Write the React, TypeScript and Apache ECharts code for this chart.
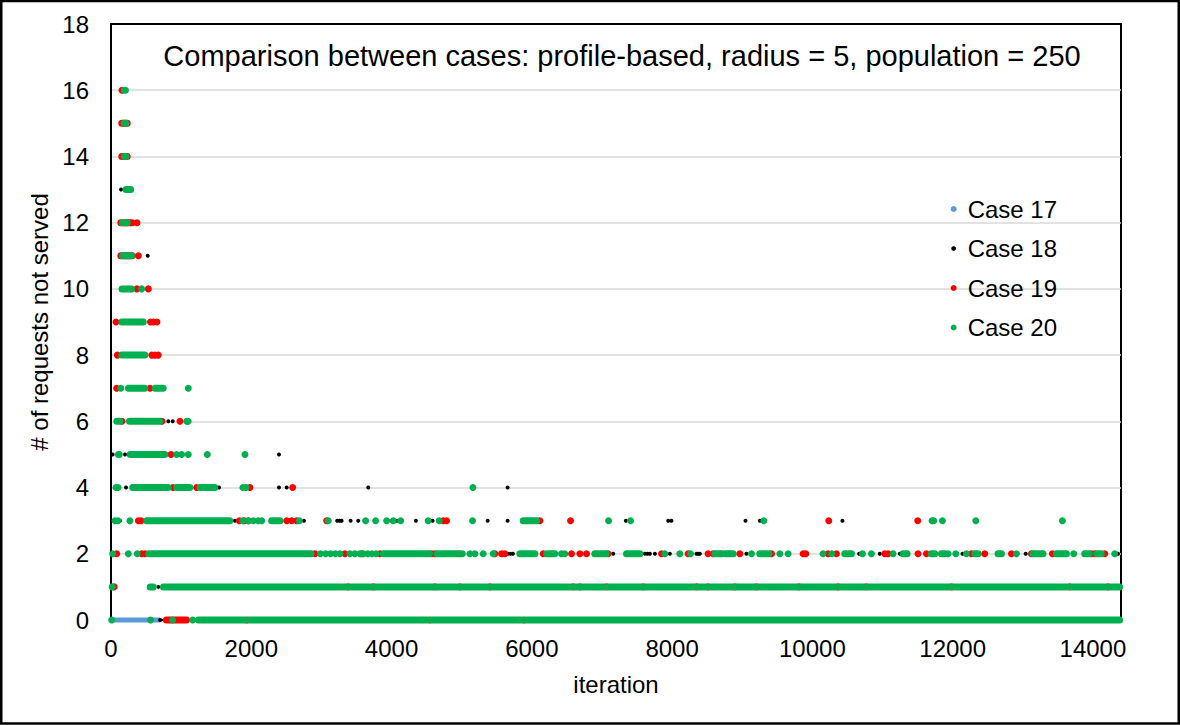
import React, { useEffect, useRef } from 'react';
import * as echarts from 'echarts';

const TITLE = 'Comparison between cases: profile-based, radius = 5, population = 250';
const X_NAME = 'iteration';
const Y_NAME = '# of requests not served';
const X_MAX = 14400;
const X_STEP = 2000;
const Y_MAX = 18;
const Y_STEP = 2;

type Rows = [number, number[]][];
type RunRows = [number, [number, number][]][];

// Each row: [y level, x positions] ; runs: [y level, [x start, x end] dense stretches]
const case17Runs: RunRows = [[0, [[40, 690]]]];
const case17Dots: Rows = [];

const case18Runs: RunRows = [];
const case18Dots: Rows = [
  [13, [143]],
  [11, [523]],
  [6, [817, 880]],
  [5, [24, 200, 2395]],
  [4, [214, 1540, 2395, 2505, 3668, 5655]],
  [3, [128, 1767, 2751, 3225, 3260, 3288, 3416, 3525, 4000, 4072, 4347, 4585, 5370, 5655, 7340, 7945, 7990, 9046, 9250, 10428]],
  [2, [5658, 5694, 5730, 7160, 7611, 7647, 7683, 7754, 7967, 8348, 8372, 8395, 9060, 10666, 10960, 11246, 12140, 13041, 13740, 14357]],
  [1, [675]],
  [0, [700]],
];

const case19Runs: RunRows = [
  [15, [[154, 231]]],
  [14, [[154, 231]]],
  [12, [[140, 300]]],
  [11, [[140, 300]]],
  [0, [[790, 1076]]],
];
const case19Dots: Rows = [
  [16, [157]],
  [12, [370]],
  [11, [390]],
  [10, [370, 532]],
  [9, [71, 563, 605, 655]],
  [8, [90, 582, 627, 673]],
  [7, [81, 556]],
  [6, [157, 727, 983]],
  [5, [855]],
  [4, [884, 1221, 1981, 2590]],
  [3, [390, 430, 1830, 1900, 1960, 2505, 2575, 2647, 3074, 4737, 4785, 6115, 6552, 10233, 11502]],
  [2, [81, 437, 487, 2908, 3335, 3573, 3834, 4570, 4618, 4974, 5473, 5568, 5616, 6162, 6566, 6685, 6780, 7088, 7849, 8228, 8513, 8585, 8704, 8965, 9417, 9868, 9906, 10224, 10343, 11032, 11080, 11506, 11626, 12267, 12457, 12838, 13122, 13422, 13978, 14025, 14168]],
  [1, [45, 3382, 3739, 4618, 4974, 5402, 6589, 6685, 7065, 7587, 8348, 8513, 8894, 9203, 9810, 10366, 10771, 11983, 13668, 14215]],
  [0, [1933, 4547, 5887]],
];

const case20Runs: RunRows = [
  [16, [[190, 205]]],
  [15, [[188, 211]]],
  [14, [[188, 211]]],
  [13, [[215, 280]]],
  [12, [[164, 231]]],
  [11, [[167, 292]]],
  [10, [[157, 292]]],
  [9, [[155, 460]]],
  [8, [[154, 482]]],
  [7, [[250, 482], [630, 744]]],
  [6, [[83, 126], [264, 696]]],
  [5, [[107, 117], [274, 767]]],
  [4, [[310, 815], [938, 1123], [1271, 1480]]],
  [3, [[510, 1693], [2290, 2410], [5877, 6067]]],
  [2, [[540, 2850], [3882, 4540], [4648, 4944], [5830, 6043], [6210, 6328], [6898, 7060], [7350, 7540], [8609, 8680], [8751, 8870], [9250, 9380], [10462, 10557], [11293, 11350], [11697, 11745], [11840, 11887], [12315, 12362], [12647, 12695], [13145, 13288], [13479, 13622], [13883, 13948], [14055, 14120]]],
  [1, [[559, 602], [748, 3352], [3412, 3709], [3769, 4588], [4648, 4944], [5004, 5372], [5432, 6559], [6619, 6655], [6715, 7035], [7095, 7557], [7617, 8318], [8378, 8483], [8543, 8864], [8924, 9173], [9233, 9780], [9840, 10336], [10396, 10741], [10801, 11953], [12013, 13638], [13698, 14185], [14245, 14380]]],
  [0, [[1247, 1903], [1963, 4517], [4577, 5857], [5917, 14380]]],
];
const case20Dots: Rows = [
  [10, [437]],
  [7, [140, 1102]],
  [6, [1080, 1100]],
  [5, [936, 1007, 1102, 1373, 1910]],
  [4, [71, 100, 1880, 1925, 5160]],
  [3, [57, 100, 270, 1880, 1957, 2028, 2100, 2148, 2684, 3097, 3630, 3773, 3930, 4025, 4130, 4522, 4680, 5155, 7094, 7408, 9307, 11706, 11730, 11854, 12330, 13565]],
  [2, [24, 247, 375, 2985, 3060, 3130, 3200, 3265, 3406, 3478, 3549, 3600, 3660, 3720, 3780, 5010, 5117, 5188, 5307, 5449, 6423, 6470, 7896, 8110, 8262, 9132, 9536, 9654, 10153, 10276, 10714, 10842, 11150, 11935, 12044, 12196, 12909, 13726, 14310]],
  [1, [17]],
  [0, [10, 565, 877, 1165]],
];

const CASES = [
  { name: 'Case 17', color: '#5b9bd5', size: 5, runs: case17Runs, dots: case17Dots },
  { name: 'Case 18', color: '#000000', size: 4, runs: case18Runs, dots: case18Dots },
  { name: 'Case 19', color: '#ff0000', size: 7, runs: case19Runs, dots: case19Dots },
  { name: 'Case 20', color: '#00b050', size: 7, runs: case20Runs, dots: case20Dots },
];

const FONT = '"Liberation Sans", Arial, Helvetica, sans-serif';

const flattenDots = (rows: Rows) => rows.flatMap(([y, xs]) => xs.map((x) => [x, y]));
const flattenRuns = (rows: RunRows) => rows.flatMap(([y, rs]) => rs.map(([a, b]) => [a, b, y]));

export default function App() {
  const ref = useRef<HTMLDivElement>(null);
  useEffect(() => {
    document.body.style.margin = '0';
    if (!ref.current) return;
    const chart = echarts.init(ref.current, undefined, { renderer: 'svg' });
    const series: any[] = [];
    CASES.forEach((c, i) => {
      const size = c.size;
      series.push({
        type: 'custom',
        name: c.name,
        z: 2 + i,
        silent: true,
        clip: false,
        data: flattenRuns(c.runs),
        encode: { x: [0, 1], y: 2 },
        renderItem: (_params: any, api: any) => {
          const a = api.coord([api.value(0), api.value(2)]);
          const b = api.coord([api.value(1), api.value(2)]);
          return {
            type: 'rect',
            shape: { x: a[0] - size / 2, y: a[1] - size / 2, width: b[0] - a[0] + size, height: size, r: size / 2 },
            style: { fill: c.color },
          };
        },
      });
      series.push({
        type: 'scatter',
        name: c.name,
        z: 2 + i,
        silent: true,
        symbol: 'circle',
        symbolSize: size,
        itemStyle: { color: c.color, opacity: 1 },
        data: flattenDots(c.dots),
      });
    });
    chart.setOption({
      animation: false,
      backgroundColor: '#ffffff',
      textStyle: { fontFamily: FONT },
      grid: { left: 111, right: 59, top: 24, bottom: 105, show: true, borderColor: '#000', borderWidth: 2, backgroundColor: 'transparent' },
      legend: {
        orient: 'vertical',
        left: 945,
        top: 192,
        itemWidth: 6,
        itemHeight: 6,
        itemGap: 15.5,
        selectedMode: false,
        textStyle: { fontSize: 24, fontFamily: FONT, color: '#000', lineHeight: 24, padding: [0, 0, 0, 6] },
        data: [
          { name: 'Case 17', icon: 'circle', itemStyle: { color: '#5b9bd5' } },
          { name: 'Case 18', icon: 'circle', itemStyle: { color: '#000', borderColor: '#fff', borderWidth: 1.3 } },
          { name: 'Case 19', icon: 'circle', itemStyle: { color: '#ff0000' } },
          { name: 'Case 20', icon: 'circle', itemStyle: { color: '#00b050' } },
        ],
      },
      xAxis: {
        type: 'value',
        min: 0,
        max: X_MAX,
        interval: X_STEP,
        name: X_NAME,
        nameLocation: 'middle',
        nameGap: 52,
        nameTextStyle: { fontSize: 24, color: '#000', fontFamily: FONT },
        axisLine: { show: true, lineStyle: { color: '#000', width: 2 } },
        axisTick: { show: false },
        splitLine: { show: false },
        axisLabel: { fontSize: 24, color: '#000', margin: 16, showMaxLabel: false, fontFamily: FONT, formatter: (v: number) => String(v) },
      },
      yAxis: {
        type: 'value',
        min: 0,
        max: Y_MAX,
        interval: Y_STEP,
        name: Y_NAME,
        nameLocation: 'middle',
        nameGap: 57,
        nameTextStyle: { fontSize: 24, color: '#000', fontFamily: FONT },
        axisLine: { show: true, lineStyle: { color: '#000', width: 2 } },
        axisTick: { show: false },
        splitLine: { show: true, showMinLine: false, showMaxLine: false, lineStyle: { color: '#d9d9d9', width: 1.5 } },
        axisLabel: { fontSize: 24, color: '#000', margin: 22, fontFamily: FONT, formatter: (v: number) => String(v) },
      },
      graphic: [
        {
          type: 'rect',
          silent: true,
          shape: { x: 1.25, y: 1, width: 1177.5, height: 722.5 },
          style: { fill: 'none', stroke: '#000', lineWidth: 2.5 },
        },
        {
          type: 'text',
          silent: true,
          x: 622,
          y: 56,
          style: { text: TITLE, fontSize: 29, fontFamily: FONT, fill: '#000', align: 'center', verticalAlign: 'middle' },
        },
      ],
      series,
    });
    return () => chart.dispose();
  }, []);
  return <div ref={ref} style={{ width: 1180, height: 725 }} />;
}
